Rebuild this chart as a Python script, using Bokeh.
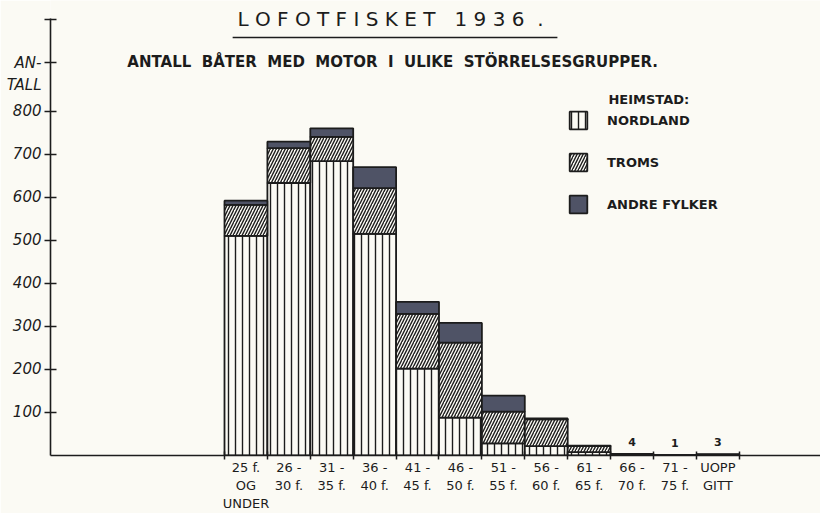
from bokeh.plotting import figure
from bokeh.models import ColumnDataSource, FixedTicker, Label, Range1d
from bokeh.embed import file_html
from bokeh.resources import INLINE

# ---- data ----
groups = ["25f", "26-30f", "31-35f", "36-40f", "41-45f", "46-50f", "51-55f",
          "56-60f", "61-65f", "66-70f", "71-75f", "uoppgitt"]
tick_labels = ["25 f.\nOG\nUNDER", "26 -\n30 f.", "31 -\n35 f.", "36 -\n40 f.",
               "41 -\n45 f.", "46 -\n50 f.", "51 -\n55 f.", "56 -\n60 f.",
               "61 -\n65 f.", "66 -\n70 f.", "71 -\n75 f.", "UOPP\nGITT"]
nordland = [510, 633, 684, 515, 202, 88, 28, 22, 8, 2, 1, 1]
troms = [72, 81, 56, 106, 127, 174, 74, 62, 14, 2, 0, 1]
andre = [10, 15, 20, 49, 28, 46, 37, 2, 1, 0, 0, 1]
y_ticks = [100, 200, 300, 400, 500, 600, 700, 800]
annotated = [9, 10, 11]  # small groups whose totals are written above

BG = "#fbfaf4"
INK = "#1c1c1c"
NB = "\u00a0"
FONT = "DejaVu Sans"

xs = list(range(len(groups)))
totals = [a + b + c for a, b, c in zip(nordland, troms, andre)]
src = ColumnDataSource(dict(x=xs, nordland=nordland, troms=troms, andre=andre))

p = figure(width=820, height=513, output_backend="svg", toolbar_location=None,
           x_range=Range1d(-4.556, 13.393), y_range=Range1d(0, 1057),
           min_border_left=50, min_border_right=0, min_border_top=0,
           min_border_bottom=57, background_fill_color=BG, border_fill_color=BG,
           outline_line_color=None)
p.grid.visible = False

p.vbar_stack(["nordland", "troms", "andre"], x="x", width=1, source=src,
             fill_color=[BG, BG, "#4f5366"],
             hatch_pattern=["|", "/", " "], hatch_scale=[7, 6, 12],
             hatch_weight=[1.4, 1.4, 1], hatch_color=INK,
             line_color=INK, line_width=1.8,
             legend_label=["NORDLAND", "TROMS", "ANDRE FYLKER"])

# totals above tiny bars
p.text(x=[xs[i] for i in annotated], y=[totals[i] for i in annotated],
       text=[str(totals[i]) for i in annotated], y_offset=-8,
       text_align="center", text_baseline="bottom", text_font_size="11px",
       text_font_style="bold", text_color=INK, text_font={"value": FONT})

# ---- axes ----
xa = p.xaxis[0]
xa.ticker = FixedTicker(ticks=xs, minor_ticks=[i - 0.5 for i in range(len(groups) + 1)])
xa.major_label_overrides = {i: lab for i, lab in enumerate(tick_labels)}
xa.major_tick_line_color = None
xa.major_tick_out = 0
xa.major_tick_in = 0
xa.minor_tick_in = 4
xa.minor_tick_out = 4
xa.minor_tick_line_color = INK
xa.minor_tick_line_width = 1.5
xa.axis_line_color = INK
xa.axis_line_width = 1.6
xa.major_label_standoff = 0
xa.major_label_text_font_size = "13px"
xa.major_label_text_color = INK
xa.major_label_text_font = FONT

ya = p.yaxis[0]
ya.bounds = (0, 1015)
ya.ticker = FixedTicker(ticks=y_ticks + [912, 1013], minor_ticks=[])
ov = {t: str(t) for t in y_ticks}
ov[912] = NB + "\nAN-\nTALL"
ov[1013] = ""
ya.major_label_overrides = ov
ya.major_tick_in = 6
ya.major_tick_out = 6
ya.major_tick_line_color = INK
ya.major_tick_line_width = 1.4
ya.axis_line_color = INK
ya.axis_line_width = 1.6
ya.major_label_standoff = 3
ya.major_label_text_font_size = "15px"
ya.major_label_text_font_style = "italic"
ya.major_label_text_color = INK
ya.major_label_text_font = FONT

# ---- titles ----
title_txt = (" ".join("LOFOTFISKET") + NB * 3 + " ".join("1936") + NB * 2 + ".")
p.add_layout(Label(x=3.37, y=1015, text=title_txt,
                   text_align="center", text_baseline="middle",
                   text_font_size="20px", text_color=INK, text_font=FONT))
p.segment(x0=[-0.31], y0=[971], x1=[7.26], y1=[971], line_color=INK, line_width=1.5)
sub_txt = (" " + NB).join("ANTALL BÅTER MED MOTOR I ULIKE STÖRRELSESGRUPPER.".split(" "))
p.add_layout(Label(x=3.42, y=913, text=sub_txt,
                   text_align="center", text_baseline="middle",
                   text_font_size="15px", text_font_style="bold", text_color=INK,
                   text_font=FONT))

# ---- legend ----
p.add_layout(Label(x=8.45, y=827, text="HEIMSTAD:", text_align="left",
                   text_baseline="middle", text_font_size="13px",
                   text_font_style="bold", text_color=INK, text_font=FONT))
lg = p.legend[0]
lg.location = (517, 240)
lg.padding = 0
lg.margin = 0
lg.border_line_color = None
lg.background_fill_alpha = 0
lg.glyph_width = 22
lg.glyph_height = 22
lg.spacing = 20
lg.label_standoff = 18
lg.label_text_font_size = "13px"
lg.label_text_font_style = "bold"
lg.label_text_color = INK
lg.label_text_font = FONT

open("out.html", "w").write(file_html(p, INLINE))
